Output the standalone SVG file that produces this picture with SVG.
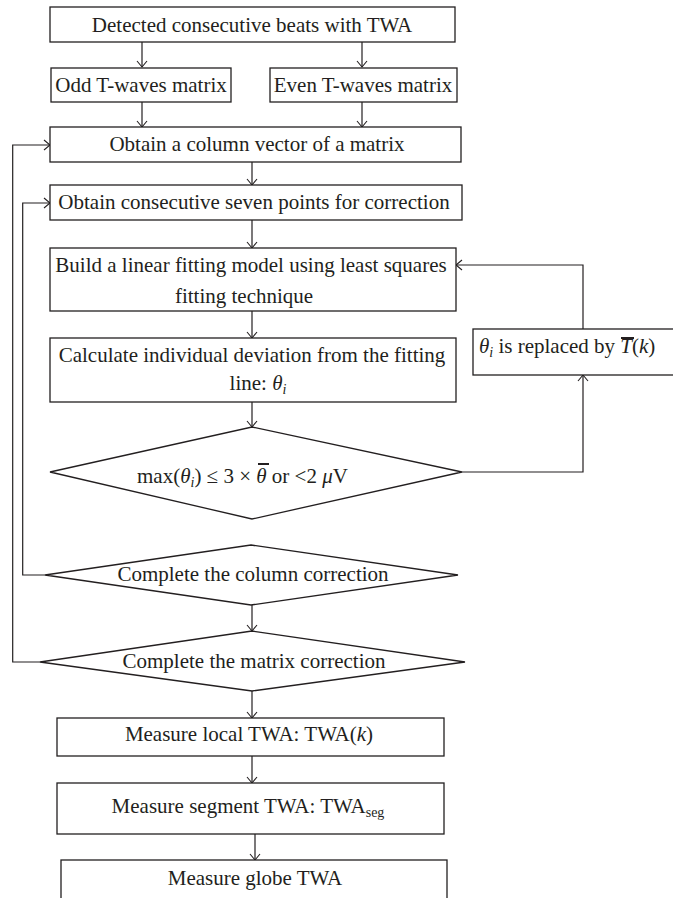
<svg xmlns="http://www.w3.org/2000/svg" width="673" height="898" viewBox="0 0 673 898">
<defs>
<marker id="arr" markerWidth="12" markerHeight="12" viewBox="-8 -6 10 12" refX="0" refY="0" orient="auto" markerUnits="userSpaceOnUse">
<path d="M-6,-5 L0,0 L-6,5" fill="none" stroke="#231f20" stroke-width="1.1"/>
</marker>
<style>
.box{fill:#fff;stroke:#231f20;stroke-width:1.3}
.t{font-family:"Liberation Serif","Times New Roman",serif;font-size:21px;fill:#231f20;text-anchor:middle}
.ts{font-family:"Liberation Serif","Times New Roman",serif;font-size:21px;fill:#231f20}
.c{fill:none;stroke:#231f20;stroke-width:1.2}
.ca{fill:none;stroke:#231f20;stroke-width:1.2;marker-end:url(#arr)}
.bar{stroke:#231f20;stroke-width:2}
</style>
</defs>
<rect width="673" height="898" fill="#fff"/>
<g id="connectors">
<path class="ca" d="M142,42 V67"/>
<path class="ca" d="M362,42 V67"/>
<path class="ca" d="M142,102 V127"/>
<path class="ca" d="M362,102 V127"/>
<path class="ca" d="M252,162 V185"/>
<path class="ca" d="M252,220 V248"/>
<path class="ca" d="M252,311 V338"/>
<path class="ca" d="M252,402 V427"/>
<path class="ca" d="M462,472 H583 V375"/>
<path class="ca" d="M583,329 V265 H456"/>
<path class="ca" d="M45,575 H22.7 V203 H50"/>
<path class="ca" d="M252,605 V631"/>
<path class="ca" d="M40,662 H12.7 V145 H50"/>
<path class="ca" d="M252,691 V718"/>
<path class="ca" d="M252,756 V783"/>
<path class="ca" d="M255,834 V860"/>
</g>
<g id="n1"><rect class="box" x="50" y="7" width="405" height="35"/><text class="t" x="252" y="32">Detected consecutive beats with TWA</text></g>
<g id="n2"><rect class="box" x="51" y="68" width="180" height="34"/><text class="t" x="141" y="92">Odd T-waves matrix</text></g>
<g id="n3"><rect class="box" x="270" y="68" width="187" height="34"/><text class="t" x="363" y="92">Even T-waves matrix</text></g>
<g id="n4"><rect class="box" x="50" y="127" width="411" height="35"/><text class="t" x="257" y="151">Obtain a column vector of a matrix</text></g>
<g id="n5"><rect class="box" x="50" y="185" width="412" height="35"/><text class="t" x="254" y="209">Obtain consecutive seven points for correction</text></g>
<g id="n6"><rect class="box" x="50" y="248" width="406" height="63"/><text class="t" x="251" y="272">Build a linear fitting model using least squares</text><text class="t" x="244" y="303">fitting technique</text></g>
<g id="n7"><rect class="box" x="50" y="338" width="406" height="64"/><text class="t" x="252" y="362">Calculate individual deviation from the fitting</text><text class="t" x="258" y="390">line: <tspan font-style="italic">θ</tspan><tspan font-style="italic" font-size="14" dy="4">i</tspan></text></g>
<g id="n8"><rect class="box" x="473" y="329" width="215" height="46"/><text class="ts" x="479" y="353"><tspan font-style="italic">θ</tspan><tspan font-style="italic" font-size="14" dy="4">i</tspan><tspan dy="-4"> is replaced by </tspan><tspan font-style="italic">T</tspan>(<tspan font-style="italic">k</tspan>)</text><line class="bar" x1="621" y1="338" x2="634" y2="338"/></g>
<g id="n9"><polygon class="box" points="252,427 462,472 252,519 50,472"/><text class="ts" x="137" y="483">max(<tspan font-style="italic">θ</tspan><tspan font-style="italic" font-size="14" dy="4">i</tspan><tspan dy="-4">) ≤ 3 × </tspan><tspan font-style="italic">θ</tspan> or &lt;2 <tspan font-style="italic">μ</tspan>V</text><line class="bar" x1="258" y1="464" x2="269" y2="464"/></g>
<g id="n10"><polygon class="box" points="251,545 458,575 251,605 45,575"/><text class="t" x="253" y="581">Complete the column correction</text></g>
<g id="n11"><polygon class="box" points="252,631 465,662 252,691 40,662"/><text class="t" x="254" y="668">Complete the matrix correction</text></g>
<g id="n12"><rect class="box" x="57" y="718" width="387" height="38"/><text class="t" x="249" y="741">Measure local TWA: TWA(<tspan font-style="italic">k</tspan>)</text></g>
<g id="n13"><rect class="box" x="57" y="783" width="387" height="51"/><text class="t" x="248" y="813">Measure segment TWA: TWA<tspan font-size="14" dy="4">seg</tspan></text></g>
<g id="n14"><rect class="box" x="61" y="860" width="386" height="50"/><text class="t" x="255" y="885">Measure globe TWA</text></g>
</svg>
